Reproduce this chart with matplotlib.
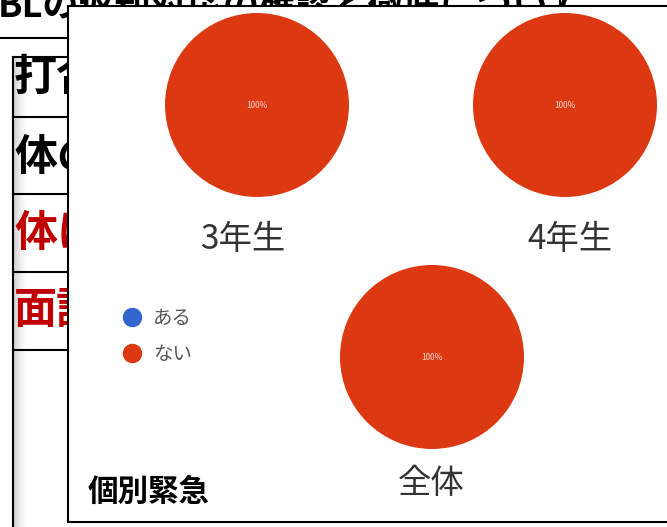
import matplotlib
matplotlib.use('Agg')
import matplotlib.pyplot as plt
from matplotlib.lines import Line2D
from matplotlib.patches import Rectangle
import numpy as np

plt.rcParams['font.family'] = ['Noto Sans CJK JP', 'DejaVu Sans']

# Data
groups = ['3年生', '4年生', '全体']
answers = ['ある', 'ない']
aru = [0, 0, 0]
nai = [100, 100, 100]
colors = ['#3366cc', '#dc3912']
chart_title = '個別緊急'

# Slide behind the chart (mostly covered)
slide_title = 'BLの返却対応の確認と徹底について'
row_labels = ['打合', '体の', '体に', '面談']
row_colors = ['black', 'black', '#c00000', '#c00000']

###############################################################################
# Layout (pixels)
###############################################################################

W, H = 667, 527
centers = [(257, 105), (565, 105), (432, 357)]
radius = 92
label_xy = [(243, 240), (570, 240), (431, 483)]
row_y = [77, 157, 233, 310]
row_lines = [57, 117, 194, 272, 350]

fig = plt.figure(figsize=(W / 100, H / 100), dpi=100)
bg = fig.add_axes([0, 0, 1, 1])
bg.set_xlim(0, W)
bg.set_ylim(H, 0)
bg.axis('off')

# Slide title, cut off at the top
bg.text(-2, 16, slide_title, fontsize=26, fontweight='bold',
        va='baseline', ha='left', zorder=1)
bg.plot([0, 68], [38, 38], color='black', lw=1.5, zorder=2)
bg.plot([560, 560], [0, 6], color='black', lw=1.5, zorder=2)

# Left table
bg.plot([13, 13], [row_lines[0], H], color='black', lw=1.5, zorder=2)
for y in row_lines:
    bg.plot([13, 68], [y, y], color='black', lw=1.5, zorder=2)
grad = np.linspace(1, 0, 50).reshape(1, -1)
bg.imshow(grad, cmap='Greys', vmin=0, vmax=3.5, aspect='auto',
          extent=(14, 27, H, row_lines[0] + 1), zorder=1)
for label, color, y in zip(row_labels, row_colors, row_y):
    bg.text(14, y, label, fontsize=31, fontweight='bold', color=color,
            va='center', ha='left', zorder=3)

# Chart box on top
bg.add_patch(Rectangle((68, 6), 700, 516, facecolor='white',
                       edgecolor='black', lw=1.5, zorder=5))

###############################################################################
# Pies
###############################################################################

for i, group in enumerate(groups):
    cx, cy = centers[i]
    ax = fig.add_axes([(cx - radius) / W, (H - cy - radius) / H,
                       2 * radius / W, 2 * radius / H])
    ax.pie([aru[i], nai[i]], colors=colors, startangle=90,
           counterclock=False, pctdistance=0,
           autopct=lambda p: f'{p:.0f}%' if p > 0 else '',
           textprops=dict(color='#f4d8d0', fontsize=6))
    ax.set_xlim(-1, 1)
    ax.set_ylim(-1, 1)
    ax.set_aspect('equal')
    lx, ly = label_xy[i]
    bg.text(lx, ly, group, fontsize=24, color='#333333',
            ha='center', va='center', zorder=6)

# Legend
handles = [Line2D([], [], marker='o', ls='', color=c, markersize=13)
           for c in colors]
fig.legend(handles, answers, loc='center left',
           bbox_to_anchor=(122 / W, 1 - 336.5 / H), frameon=False,
           fontsize=14, handlelength=1, handletextpad=0.6,
           labelspacing=0.75, borderpad=0, borderaxespad=0,
           labelcolor='#555555')

bg.text(88, 492, chart_title, fontsize=22, fontweight='bold',
        va='center', ha='left', zorder=6)

fig.savefig('out.png', dpi=100)
